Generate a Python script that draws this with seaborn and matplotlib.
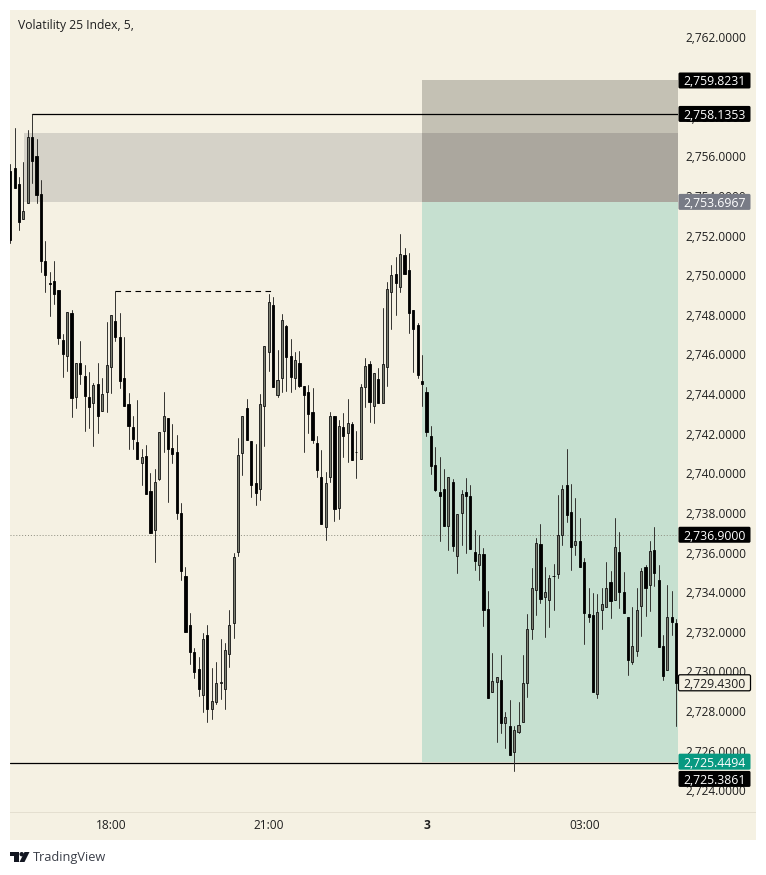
import numpy as np
import pandas as pd
import seaborn as sns
import matplotlib.pyplot as plt
from matplotlib.patches import FancyBboxPatch, Polygon, Rectangle, Circle
from matplotlib.transforms import IdentityTransform

# candles, 5 min bars
opens = [
    2755.25, 2755.40, 2754.60, 2752.83, 2753.64, 2756.97, 2756.01, 2754.10, 2750.71, 2749.60,
    2749.71, 2749.25, 2746.73, 2745.92, 2748.09, 2743.85, 2745.57, 2744.91, 2743.85, 2743.55,
    2744.51, 2743.15, 2744.11, 2745.37, 2747.69, 2746.88, 2744.81, 2743.50, 2742.34, 2741.58,
    2740.53, 2740.88, 2739.11, 2737.14, 2739.72, 2742.14, 2742.79, 2741.28, 2741.08, 2738.00,
    2734.82, 2732.35, 2730.99, 2730.13, 2728.82, 2731.84, 2728.11, 2728.47, 2729.43, 2729.12,
    2730.89, 2732.45, 2736.03, 2741.03, 2743.30, 2741.63, 2739.51, 2739.21, 2743.40, 2746.12,
    2748.50, 2743.95, 2744.81, 2747.44, 2745.92, 2744.81, 2745.57, 2744.41, 2744.11, 2743.10,
    2741.53, 2739.82, 2737.30, 2739.82, 2742.89, 2738.25, 2742.34, 2742.04, 2742.49, 2741.08,
    2740.73, 2744.36, 2745.52, 2743.40, 2744.76, 2743.55, 2745.37, 2749.15, 2750.06, 2749.41,
    2751.02, 2750.26, 2748.24, 2747.48, 2744.66, 2744.11, 2741.88, 2740.43, 2739.06, 2739.21,
    2737.35, 2739.57, 2735.83, 2738.00, 2739.06, 2738.86, 2736.03, 2735.38, 2735.93, 2733.16,
    2728.97, 2729.48, 2729.58, 2727.41, 2727.26, 2725.94, 2726.95, 2727.46, 2729.43, 2732.15,
    2734.12, 2736.44, 2733.76, 2733.61, 2734.82, 2734.92, 2736.89, 2739.41, 2738.05, 2736.38,
    2736.59, 2735.53, 2732.90, 2732.85, 2728.87, 2733.11, 2733.26, 2734.52, 2733.61, 2736.03,
    2734.02, 2732.75, 2730.48, 2731.04, 2733.31, 2735.28, 2734.37, 2736.13, 2734.62, 2731.29,
    2730.08, 2732.75, 2732.45,
]
highs = [
    2755.61, 2757.42, 2754.95, 2755.71, 2757.32, 2758.13, 2756.87, 2754.80, 2751.72, 2750.16,
    2750.71, 2749.25, 2747.03, 2748.14, 2748.24, 2745.57, 2746.68, 2745.47, 2745.12, 2744.56,
    2745.57, 2744.81, 2747.64, 2747.99, 2749.20, 2748.09, 2746.88, 2744.06, 2742.89, 2743.70,
    2741.23, 2741.43, 2740.02, 2740.22, 2742.09, 2744.11, 2742.79, 2742.49, 2741.93, 2738.51,
    2735.28, 2732.95, 2731.19, 2730.74, 2731.94, 2732.35, 2730.18, 2730.48, 2731.64, 2731.44,
    2733.11, 2735.98, 2741.78, 2742.89, 2743.75, 2741.63, 2741.48, 2744.01, 2746.42, 2749.05,
    2748.90, 2746.22, 2748.04, 2747.49, 2746.78, 2746.12, 2746.17, 2744.41, 2744.46, 2744.30,
    2741.88, 2741.18, 2740.07, 2743.10, 2742.89, 2742.69, 2743.05, 2743.75, 2742.59, 2742.14,
    2744.51, 2745.82, 2745.67, 2745.07, 2745.32, 2748.34, 2749.66, 2750.51, 2750.91, 2752.08,
    2751.37, 2751.12, 2748.24, 2747.59, 2745.97, 2744.36, 2742.39, 2741.33, 2740.83, 2740.22,
    2739.82, 2739.72, 2737.95, 2739.16, 2739.77, 2739.41, 2737.14, 2736.89, 2736.23, 2734.07,
    2730.94, 2729.73, 2730.84, 2727.96, 2728.57, 2727.26, 2728.47, 2730.84, 2732.90, 2735.23,
    2736.74, 2737.45, 2735.28, 2734.87, 2735.43, 2738.91, 2739.41, 2741.23, 2739.46, 2738.76,
    2737.75, 2735.73, 2734.22, 2733.96, 2733.91, 2734.22, 2735.53, 2735.08, 2737.75, 2737.04,
    2735.02, 2732.75, 2733.26, 2734.22, 2735.23, 2735.38, 2736.59, 2737.30, 2735.38, 2731.84,
    2734.37, 2734.07, 2732.65,
]
lows = [
    2751.62, 2754.40, 2752.28, 2752.83, 2753.64, 2754.65, 2753.64, 2750.16, 2749.15, 2747.94,
    2748.55, 2746.53, 2744.86, 2745.17, 2742.84, 2743.30, 2744.51, 2742.14, 2742.29, 2741.38,
    2742.04, 2743.15, 2743.10, 2744.06, 2746.68, 2744.31, 2743.40, 2741.23, 2741.23, 2740.73,
    2739.41, 2738.96, 2736.99, 2735.53, 2739.67, 2741.08, 2738.56, 2740.53, 2737.70, 2734.62,
    2731.99, 2730.39, 2729.68, 2728.77, 2727.96, 2727.46, 2727.61, 2728.37, 2728.62, 2728.11,
    2730.23, 2731.69, 2735.83, 2739.92, 2741.68, 2738.81, 2738.41, 2738.66, 2741.38, 2745.17,
    2744.36, 2743.85, 2744.11, 2744.16, 2744.11, 2744.26, 2744.36, 2741.08, 2742.04, 2741.53,
    2739.82, 2737.45, 2736.64, 2739.57, 2737.60, 2737.70, 2740.83, 2740.58, 2740.68, 2739.77,
    2740.73, 2743.35, 2742.59, 2742.54, 2743.55, 2743.55, 2744.41, 2747.28, 2747.99, 2749.15,
    2750.06, 2747.08, 2745.12, 2744.81, 2743.40, 2741.88, 2739.97, 2739.11, 2736.59, 2737.35,
    2736.13, 2736.08, 2734.97, 2736.38, 2735.98, 2736.18, 2735.13, 2734.62, 2732.30, 2728.67,
    2728.97, 2726.45, 2726.90, 2726.14, 2725.79, 2724.98, 2726.90, 2727.46, 2728.72, 2731.64,
    2732.85, 2733.46, 2731.74, 2732.25, 2733.11, 2734.72, 2736.38, 2737.55, 2735.13, 2735.88,
    2735.28, 2731.39, 2732.50, 2728.97, 2728.67, 2732.15, 2733.26, 2732.70, 2733.61, 2733.21,
    2732.95, 2729.83, 2730.38, 2730.79, 2731.79, 2732.80, 2733.06, 2734.32, 2731.24, 2729.58,
    2730.08, 2731.84, 2727.26,
]
closes = [
    2751.77, 2754.40, 2752.68, 2753.24, 2756.97, 2755.76, 2754.05, 2750.71, 2750.01, 2749.54,
    2749.05, 2746.83, 2746.02, 2748.14, 2743.80, 2745.57, 2745.02, 2743.90, 2743.35, 2744.46,
    2742.89, 2744.01, 2745.47, 2747.99, 2746.88, 2744.66, 2743.40, 2742.39, 2741.73, 2740.73,
    2740.83, 2738.96, 2736.99, 2739.57, 2742.09, 2742.89, 2741.23, 2740.98, 2738.00, 2735.08,
    2731.99, 2730.99, 2729.98, 2729.12, 2731.64, 2728.11, 2728.52, 2729.43, 2729.45, 2731.09,
    2732.35, 2735.78, 2740.93, 2742.89, 2741.68, 2739.41, 2739.01, 2743.50, 2746.42, 2748.65,
    2744.36, 2744.71, 2747.74, 2745.87, 2744.86, 2745.72, 2744.41, 2743.95, 2743.00, 2741.68,
    2740.17, 2737.45, 2739.51, 2742.89, 2738.20, 2742.39, 2741.88, 2742.54, 2740.68, 2741.06,
    2744.36, 2745.42, 2743.60, 2745.07, 2743.55, 2745.52, 2749.30, 2750.01, 2749.61, 2751.07,
    2750.06, 2748.09, 2747.28, 2744.96, 2744.51, 2742.09, 2740.37, 2739.16, 2738.86, 2737.35,
    2739.82, 2736.33, 2737.95, 2738.96, 2738.86, 2736.18, 2735.58, 2735.93, 2733.11, 2728.67,
    2729.53, 2729.73, 2727.41, 2727.71, 2725.79, 2727.05, 2727.30, 2729.43, 2732.15, 2734.22,
    2736.49, 2733.66, 2734.02, 2734.72, 2734.80, 2736.89, 2739.21, 2737.90, 2736.28, 2736.59,
    2735.28, 2732.95, 2732.75, 2728.97, 2733.01, 2733.41, 2734.22, 2733.56, 2736.28, 2734.02,
    2732.95, 2730.59, 2731.29, 2733.11, 2735.08, 2734.22, 2736.08, 2734.97, 2731.24, 2729.78,
    2732.75, 2732.50, 2729.43,
]

# price levels
zone_sell_top = 2759.8231
zone_entry = 2753.6967
zone_target = 2725.4494
band_top = 2757.17
high_line = 2758.1353
low_line = 2725.3861
last_price = 2729.43
cross_price = 2736.90
dashed_level = 2749.20

y_ticks = list(range(2724, 2763, 2))
time_ticks = [23, 59, 95, 131]
time_labels = ["18:00", "21:00", "3", "03:00"]

BG = "#f5f1e3"
W, H = 766, 875

sns.set_theme(style="white")
plt.rcParams['font.family'] = ['Open Sans', 'DejaVu Sans']

df = pd.DataFrame({'open': opens, 'high': highs, 'low': lows, 'close': closes})
df['i'] = df.index

fig = plt.figure(figsize=(W / 100, H / 100), dpi=100, facecolor="white")
# chart panel behind everything
fig.add_artist(Rectangle((10, H - 840), 746, 830, transform=IdentityTransform(),
                         facecolor=BG, edgecolor="none", zorder=-5))

ax = fig.add_axes([10 / W, (H - 812) / H, 668 / W, 802 / H])
ax.patch.set_alpha(0)
x_left, x_right = -0.05, 152.4
zone_start = 94.0

# zones
ax.fill_between([3.14, zone_start], zone_entry, band_top, color="#d5d2c8", lw=0, zorder=1)
ax.fill_between([zone_start, x_right], zone_entry, band_top, color="#aba79e", lw=0, zorder=1)
ax.fill_between([zone_start, x_right], band_top, zone_sell_top, color="#c4c1b4", lw=0, zorder=1)
ax.fill_between([zone_start, x_right], zone_target, zone_entry, color="#c6e0d0", lw=0, zorder=1)

# level lines
ax.plot([4.9, x_right], [high_line, high_line], color="black", lw=0.9, zorder=2)
ax.plot([x_left, x_right], [low_line, low_line], color="black", lw=0.9, zorder=2)
ax.plot([24, 59.6], [dashed_level, dashed_level], color="black", lw=0.8, ls=(0, (5, 4)), zorder=2)
ax.plot([x_left, x_right], [cross_price, cross_price], color="#8d8d7f", lw=0.7, ls=(0, (1, 2)), zorder=2)

# wicks
wicks = df.melt(id_vars='i', value_vars=['high', 'low'], value_name='price')
sns.lineplot(data=wicks, x='i', y='price', units='i', estimator=None, color="#333330",
             lw=0.7, ax=ax, zorder=3, legend=False)

# bodies
up = df[df['close'] >= df['open']]
down = df[df['close'] < df['open']]
ax.bar(up['i'], up['close'] - up['open'], bottom=up['open'], width=0.46,
       color="#7c7f72", edgecolor="#111111", lw=0.6, zorder=4)
ax.bar(down['i'], down['close'] - down['open'], bottom=down['open'], width=0.5,
       color="black", edgecolor="black", lw=0.6, zorder=4)

ax.set_xlabel("")
ax.set_ylabel("")
for s in ax.spines.values():
    s.set_visible(False)
ax.yaxis.tick_right()
ax.set_yticks(y_ticks)
ax.set_yticklabels([f"{v:,.4f}" for v in y_ticks], fontsize=8.6, color="#1f1f1f")
for lab in ax.get_yticklabels():
    lab.set_verticalalignment("center_baseline")
ax.set_xticks(time_ticks)
ax.set_xticklabels(time_labels, fontsize=8.6, color="#1f1f1f")
ax.get_xticklabels()[2].set_fontweight("bold")
ax.tick_params(axis='y', length=0, pad=5)
ax.tick_params(axis='x', length=0, pad=5)
ax.set_ylim(2722.91, 2763.38)
ax.set_xlim(x_left, x_right)

# axis separator under the plot
fig.add_artist(Rectangle((10, H - 812.5), 746, 1, transform=IdentityTransform(),
                         facecolor="#e4dfd0", edgecolor="none", zorder=-4))


def price_label(text, yc, face, color="white", edge="none"):
    # yc is in picture pixels, some labels get pushed off their price
    ax.add_patch(FancyBboxPatch((678.5, H - yc - 8), 72, 16, boxstyle="round,pad=0,rounding_size=1.5",
                                transform=IdentityTransform(), facecolor=face, edgecolor=edge,
                                lw=0.9, clip_on=False, zorder=6))
    fig.text(715 / W, 1 - yc / H, text, color=color, fontsize=8.8, ha="center", va="center_baseline", zorder=7)


def y_pix(price):
    return H - ax.transData.transform((0, price))[1]


price_label(f"{zone_sell_top:,.4f}", y_pix(zone_sell_top), "black")
price_label(f"{high_line:,.4f}", y_pix(high_line), "black")
price_label(f"{zone_entry:,.4f}", y_pix(zone_entry), "#787b86")
price_label(f"{cross_price:,.4f}", y_pix(cross_price), "black")
price_label(f"{last_price:,.2f}00", y_pix(last_price), BG, color="#1f1f1f", edge="black")
price_label(f"{zone_target:,.4f}", y_pix(zone_target), "#089981")
price_label(f"{low_line:,.4f}", y_pix(low_line) + 16, "black")

fig.text(18 / W, 1 - 25 / H, "Volatility 25 Index, 5,", fontsize=8.7, color="#1f1f1f", va="center")

# TradingView mark
logo = [
    Polygon([(10, H - 852), (19, H - 852), (19, H - 862), (14, H - 862), (14, H - 856), (10, H - 856)]),
    Circle((21.7, H - 854.2), 2.2),
    Polygon([(24.5, H - 852), (29.5, H - 852), (24.5, H - 862), (19.5, H - 862)]),
]
for p in logo:
    p.set(transform=IdentityTransform(), facecolor="#131722", edgecolor="none")
    fig.add_artist(p)
fig.text(33 / W, 1 - 857 / H, "TradingView", fontsize=9.2, color="#3a3e48", va="center")

fig.savefig("out.png", dpi=100)
